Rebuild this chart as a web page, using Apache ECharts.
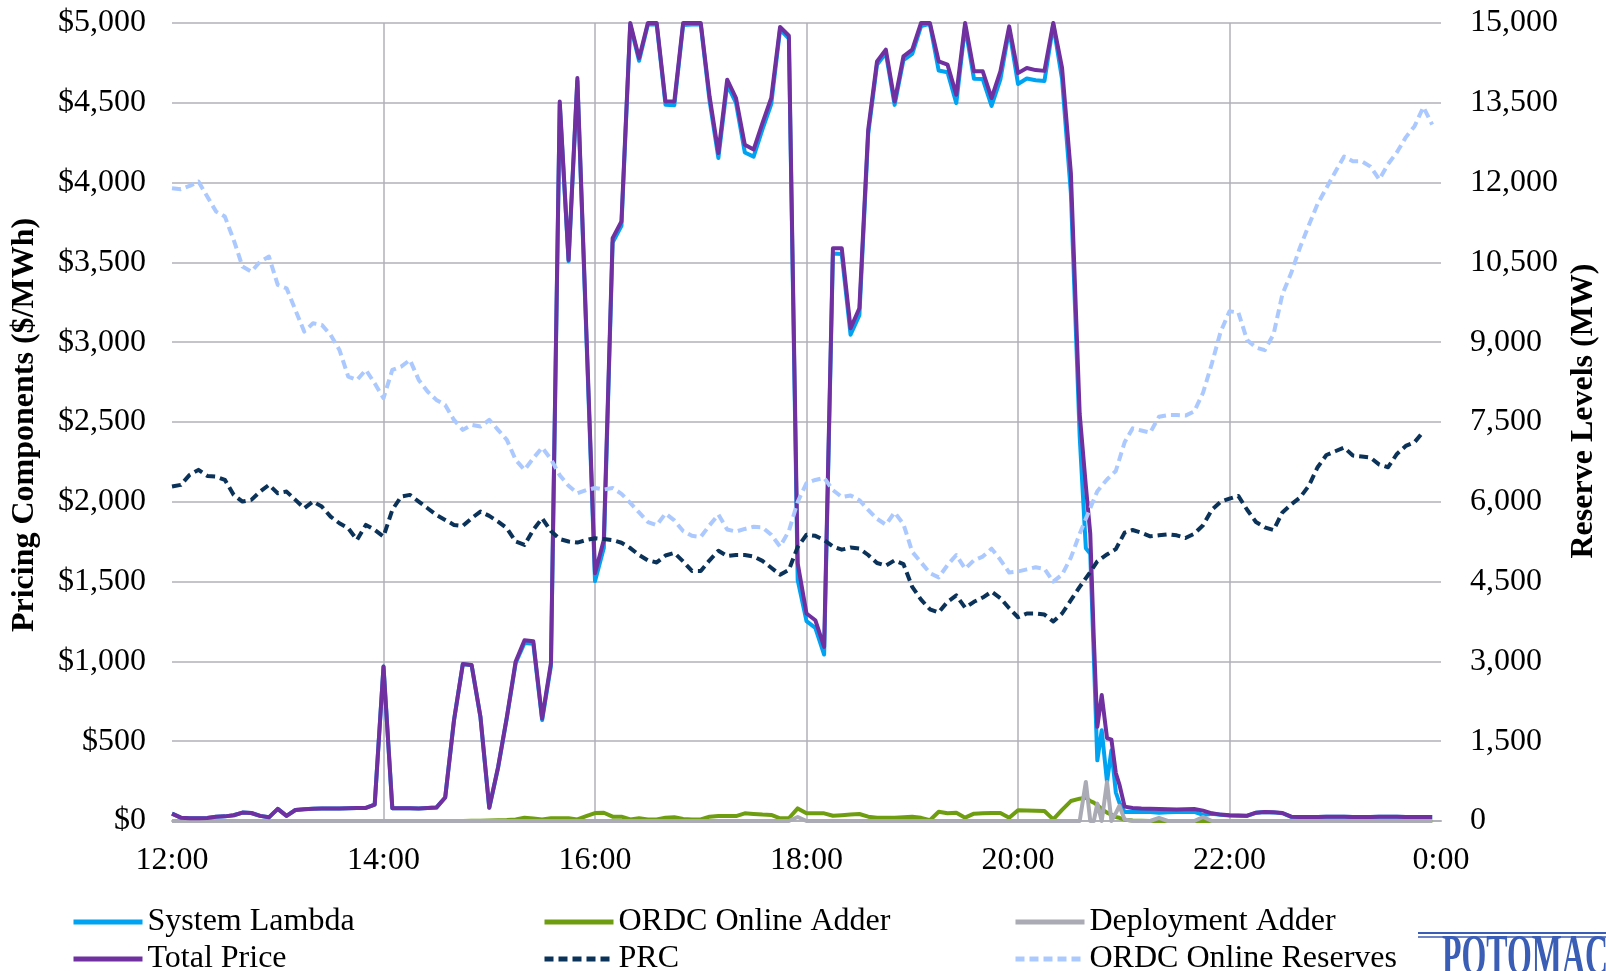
<!DOCTYPE html>
<html><head><meta charset="utf-8">
<script src="https://cdn.jsdelivr.net/npm/echarts@6/dist/echarts.min.js"></script>
<style>html,body{margin:0;padding:0;background:#fff}#c{width:1606px;height:971px}</style>
</head><body><div id="c"></div>
<script>
// minutes after 12:00
const times = [
0,5,10,15,20,25,30,35,40,45,50,55,
60,65,70,75,80,85,90,95,100,105,110,115,
120,125,130,135,140,145,150,155,160,165,170,175,
180,185,190,195,200,205,210,215,220,225,230,235,
240,245,250,255,260,265,270,275,280,285,290,295,
300,305,310,315,320,325,330,335,340,345,350,355,
360,365,370,375,380,385,390,395,400,405,410,415,
420,425,430,435,440,445,450,455,460,465,470,475,
480,485,490,495,500,505,510,515,
518.5,521,523,525,527.5,530.5,533,535.5,537.5,540.5,
545,550,555,560,565,570,575,580,585,590,595,
600,605,610,615,620,625,630,635,640,645,650,655,
660,665,670,675,680,685,690,695,700,705,710,715];

const xTickLabels = ['12:00','14:00','16:00','18:00','20:00','22:00','0:00'];

const systemLambda = [
46,21,17,17,19,27,29,36,53,50,32,23,
76,32,69,74,76,78,78,78,80,82,82,103,
968,80,80,80,78,82,84,147,631,983,976,651,
81,333,647,990,1115,1111,632,972,4491,3508,4638,3070,
1503,1710,3625,3729,4990,4763,4990,4990,4487,4485,4988,4990,
4990,4513,4154,4614,4499,4189,4163,4333,4492,4958,4903,1509,
1252,1210,1043,3556,3553,3047,3169,4304,4738,4812,4487,4767,
4806,4980,4995,4702,4691,4498,4979,4651,4649,4480,4647,4959,
4618,4652,4641,4637,4990,4648,3934,2410,
1709,1675,1035,380,569,245,443,180,115,56,
58,57,56,52,55,56,57,57,38,46,39,
35,33,32,51,56,54,49,26,25,25,25,26,
26,26,25,25,25,26,26,26,25,25,25,25];

const ordcOnlineAdder = [
0,0,0,0,0,0,0,0,0,0,0,0,
0,0,0,0,0,0,0,0,0,0,0,0,
0,0,0,0,0,0,0,0,0,0,1,2,
3,4,6,10,20,15,10,17,17,17,10,30,
50,52,27,27,10,17,10,10,21,23,12,10,
10,27,31,31,31,48,44,40,38,17,17,79,
48,48,48,33,36,40,44,27,21,21,21,24,
27,20,5,58,48,52,21,46,48,50,50,20,
68,66,64,63,10,70,125,140,
146,125,115,100,75,52,40,25,20,8,
3,1,0,0,0,0,0,0,0,0,0,
0,0,0,0,0,0,0,0,0,0,0,0,
0,0,0,0,0,0,0,0,0,0,0,0];

const deploymentAdder = [
0,0,0,0,0,0,0,0,0,0,0,0,
0,0,0,0,0,0,0,0,0,0,0,0,
0,0,0,0,0,0,0,0,0,0,0,0,
0,0,0,0,0,0,0,0,0,0,0,0,
0,0,0,0,0,0,0,0,0,0,0,0,
0,0,0,0,0,0,0,0,0,0,0,25,
0,0,0,0,0,0,0,0,0,0,0,0,
0,0,0,0,0,0,0,0,0,0,0,0,
0,0,0,0,0,0,0,0,
245,0,0,109,0,245,0,50,95,10,
0,0,0,20,0,0,0,0,25,0,0,
0,0,0,0,0,0,0,0,0,0,0,0,
0,0,0,0,0,0,0,0,0,0,0,0];

const totalPrice = [
46,21,17,17,19,27,29,36,53,50,32,23,
76,32,69,74,76,78,78,78,80,82,82,103,
968,80,80,80,78,82,84,147,631,983,977,653,
84,337,653,1000,1133,1126,642,989,4508,3516,4655,3100,
1553,1760,3652,3756,5000,4780,5000,5000,4508,4508,5000,5000,
5000,4540,4185,4645,4530,4237,4207,4373,4530,4975,4920,1615,
1300,1258,1091,3589,3589,3087,3213,4331,4759,4833,4508,4791,
4833,5000,5000,4760,4739,4550,5000,4697,4697,4530,4697,4979,
4686,4718,4705,4700,5000,4718,4059,2550,
2100,1800,1150,590,790,520,510,300,230,90,
81,78,77,75,73,72,74,75,65,48,40,
36,34,33,52,57,55,50,27,25,25,25,26,
26,26,25,25,25,26,26,26,25,25,25,25];

const prc = [
6286,6318,6506,6600,6487,6474,6412,6130,6004,6036,6192,6318,
6161,6192,6036,5879,6004,5910,5722,5597,5503,5284,5566,5472,
5347,5848,6098,6130,6004,5879,5754,5660,5566,5547,5691,5816,
5735,5628,5503,5253,5190,5472,5691,5450,5300,5253,5234,5281,
5316,5300,5280,5230,5130,5000,4900,4860,4990,5040,4880,4700,
4700,4900,5080,4980,5000,5000,4970,4890,4760,4630,4720,5150,
5380,5360,5280,5160,5100,5140,5120,5000,4850,4800,4900,4830,
4400,4160,3980,3920,4120,4240,4010,4120,4200,4310,4190,4000,
3830,3900,3900,3880,3750,3900,4150,4400,
null,4680,null,4880,null,5010,null,5110,null,5420,
5470,5420,5350,5370,5390,5370,5320,5400,5560,5850,6000,
6060,6110,5850,5620,5520,5470,5800,5950,6080,6300,6650,6880,
6950,7020,6870,6850,6830,6700,6650,6900,7050,7120,7320,null];

const ordcOnlineReserves = [
11894,11875,11937,12019,11737,11455,11361,10922,10421,10327,10515,10609,
10077,10014,9607,9200,9356,9325,9137,8855,8354,8291,8479,8228,
7947,8479,8542,8667,8291,8072,7915,7821,7539,7352,7446,7414,
7539,7352,7164,6788,6600,6819,7020,6800,6500,6300,6160,6220,
6260,6230,6260,6150,5980,5800,5620,5560,5780,5650,5450,5360,
5340,5560,5760,5480,5440,5490,5530,5520,5380,5160,5450,6000,
6350,6410,6450,6220,6090,6120,6030,5850,5680,5570,5800,5580,
5060,4860,4660,4580,4810,5000,4740,4900,4970,5120,4910,4670,
4690,4730,4770,4740,4500,4630,4950,5400,
null,5880,null,6200,null,6420,null,6580,null,7120,
7380,7340,7300,7600,7630,7630,7620,7700,8050,8600,9200,
9580,9560,9040,8900,8850,9150,9900,10300,10780,11200,11600,11900,
12200,12490,12400,12400,12300,12060,12350,12570,12850,13060,13420,13090];

const seriesNames = ['System Lambda','ORDC Online Adder','Deployment Adder','Total Price','PRC','ORDC Online Reserves'];
const seriesColors = ['#00A2F2','#6E9E10','#AAABB4','#7030A0','#0B3259','#ABC9FF'];

const FONT = 'Liberation Serif';
const pair = arr => times.map((t, i) => [t, arr[i]]);

function lineSeries(idx, data, yAxisIndex, dashed) {
  return {
    name: seriesNames[idx], type: 'line', data: pair(data), yAxisIndex: yAxisIndex,
    symbol: 'none', showSymbol: false, connectNulls: true, animation: false,
    color: seriesColors[idx],
    lineStyle: { color: seriesColors[idx], width: 4, type: dashed ? [9, 5] : 'solid', cap: 'butt', join: 'round' }
  };
}

const legendLeft = [71, 542, 1013, 71, 542, 1013];
const legendTop = [904, 904, 904, 941, 941, 941];
const legends = seriesNames.map((n, i) => ({
  data: [n], left: legendLeft[i], top: legendTop[i], padding: 0,
  itemWidth: 69, itemHeight: 14, selectedMode: false,
  itemStyle: { opacity: 0 },
  lineStyle: { width: 5 },
  textStyle: { fontFamily: FONT, fontSize: 32, color: '#000', padding: 0, lineHeight: 36 }
}));

const gridColor = '#B0B0B9';
const option = {
  backgroundColor: '#fff',
  animation: false,
  grid: { left: 172, right: 165, top: 23, bottom: 150, containLabel: false },
  legend: legends,
  xAxis: {
    type: 'value', min: 0, max: 720, interval: 120,
    axisLine: { show: true, lineStyle: { color: gridColor, width: 2 } },
    axisTick: { show: false },
    axisLabel: { formatter: v => xTickLabels[Math.round(v / 120)], fontFamily: FONT, fontSize: 32, color: '#000', margin: 24 },
    splitLine: { show: true, showMinLine: false, showMaxLine: false, lineStyle: { color: gridColor, width: 1.5 } }
  },
  yAxis: [
    {
      type: 'value', min: 0, max: 5000, interval: 500, position: 'left',
      axisLine: { show: false }, axisTick: { show: false },
      axisLabel: { formatter: v => '$' + v.toLocaleString('en-US'), fontFamily: FONT, fontSize: 32, color: '#000', margin: 26 },
      splitLine: { show: true, lineStyle: { color: gridColor, width: 1.5 } }
    },
    {
      type: 'value', min: 0, max: 15000, interval: 1500, position: 'right',
      axisLine: { show: false }, axisTick: { show: false },
      axisLabel: { formatter: v => v.toLocaleString('en-US'), fontFamily: FONT, fontSize: 32, color: '#000', margin: 29 },
      splitLine: { show: false }
    }
  ],
  series: [
    lineSeries(0, systemLambda, 0, false),
    lineSeries(1, ordcOnlineAdder, 0, false),
    lineSeries(2, deploymentAdder, 0, false),
    lineSeries(3, totalPrice, 0, false),
    lineSeries(4, prc, 1, true),
    lineSeries(5, ordcOnlineReserves, 1, true)
  ],
  graphic: [
    { type: 'text', x: 25, y: 425, rotation: Math.PI / 2,
      style: { text: 'Pricing Components ($/MWh)', font: 'bold 32px "Liberation Serif"', fill: '#000', align: 'center', verticalAlign: 'middle' } },
    { type: 'text', x: 1584, y: 411, rotation: Math.PI / 2,
      style: { text: 'Reserve Levels (MW)', font: 'bold 32px "Liberation Serif"', fill: '#000', align: 'center', verticalAlign: 'middle' } },
    { type: 'line', shape: { x1: 1418, y1: 933, x2: 1606, y2: 933 }, style: { stroke: '#3A5DB5', lineWidth: 2 } },
    { type: 'line', shape: { x1: 1418, y1: 937, x2: 1606, y2: 937 }, style: { stroke: '#3A5DB5', lineWidth: 1.5 } },
    { type: 'text', x: 1442, y: 930, scaleX: 0.55,
      style: { text: 'POTOMAC', font: 'bold 58px "Liberation Serif"', fill: '#3A5DB5', align: 'left', verticalAlign: 'top' } }
  ]
};

const chart = echarts.init(document.getElementById('c'), null, { renderer: 'canvas' });
chart.setOption(option);
</script>
</body></html>
